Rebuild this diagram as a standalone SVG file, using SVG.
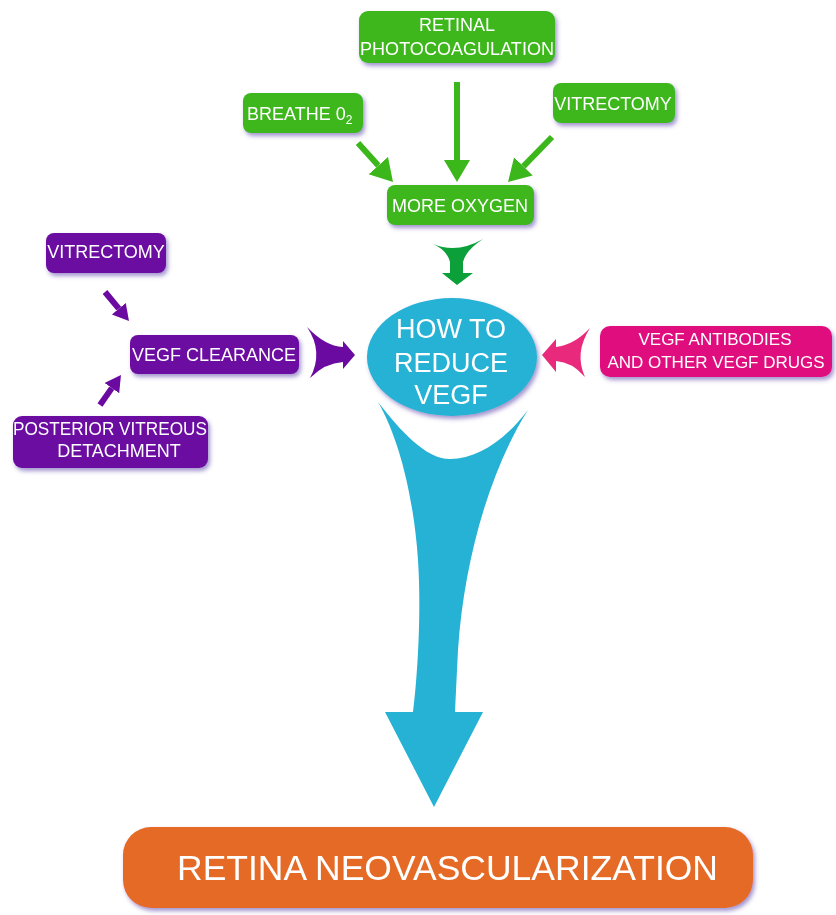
<svg xmlns="http://www.w3.org/2000/svg" width="836" height="915" viewBox="0 0 836 915">
<defs>
<filter id="sh" x="-20%" y="-20%" width="140%" height="150%">
<feDropShadow dx="2" dy="3" stdDeviation="2" flood-color="#5a3ea8" flood-opacity="0.55"/>
</filter>
<marker id="hg" markerUnits="userSpaceOnUse" markerWidth="24" markerHeight="28" refX="0" refY="13" orient="auto">
<path d="M0,0 L22,13 L0,26 Z" fill="#3cb71b"/>
</marker>
<marker id="hp" markerUnits="userSpaceOnUse" markerWidth="18" markerHeight="20" refX="0" refY="9" orient="auto">
<path d="M0,0 L16,9 L0,18 Z" fill="#6a0aa0"/>
</marker>
</defs>
<style>
.t{font-family:"Liberation Sans",Arial,sans-serif;fill:#fff;text-anchor:middle}
.g{fill:#3cb71b}
.p{fill:#6a0aa0}
.box{filter:url(#sh)}
</style>
<rect width="836" height="915" fill="#fff"/>

<g id="connectors">
<line x1="358" y1="143" x2="378.3" y2="165.6" stroke="#3cb71b" stroke-width="6" marker-end="url(#hg)"/>
<line x1="457" y1="82" x2="457" y2="160" stroke="#3cb71b" stroke-width="6" marker-end="url(#hg)"/>
<line x1="552" y1="137" x2="523.4" y2="166.3" stroke="#3cb71b" stroke-width="6" marker-end="url(#hg)"/>
<line x1="105" y1="292" x2="118.8" y2="308.7" stroke="#6a0aa0" stroke-width="6" marker-end="url(#hp)"/>
<line x1="100" y1="405" x2="111.8" y2="388.1" stroke="#6a0aa0" stroke-width="6" marker-end="url(#hp)"/>
<path d="M433,244 Q457,254 483,239 Q466,250 463,262 L463,273 L473,273 L457,285 L442,273 L450,273 L450,262 Q447,250 433,244 Z" fill="#0ba03a"/>
<path d="M542,355 L556,339 L556,347 Q574,345 590,328 Q574,353 585,377 Q572,362 556,361 L556,372 Z" fill="#e8297c"/>
<path d="M355,355 L343,341 L343,347 Q325,346 307,327 Q324,352 310,378 Q325,363 343,362 L343,369 Z" fill="#6a0aa0"/>
<path d="M378,402 C400,430 425,459 450,459 C478,459 505,440 528,410 C490,470 464,560 458,650 Q456,690 455,712 L483,712 L434,807 L385,712 L413,712 C416,690 422,620 418,560 C414,500 400,440 378,402 Z" fill="#25b2d5"/>
</g>

<g id="retinal-photocoagulation" class="box">
<rect x="359" y="11" width="196" height="52" rx="9" class="g"/>
<text class="t" x="457" y="31" font-size="18">RETINAL</text>
<text class="t" x="457" y="55" font-size="18" textLength="194" lengthAdjust="spacingAndGlyphs">PHOTOCOAGULATION</text>
</g>
<g id="breathe-o2" class="box">
<rect x="243" y="93" width="120" height="40" rx="8" class="g"/>
<text class="t" x="247" y="120" font-size="18" style="text-anchor:start">BREATHE 0<tspan font-size="12" dy="4">2</tspan></text>
</g>
<g id="vitrectomy-green" class="box">
<rect x="553" y="83" width="122" height="40" rx="8" class="g"/>
<text class="t" x="613" y="110" font-size="18">VITRECTOMY</text>
</g>
<g id="more-oxygen" class="box">
<rect x="387" y="185" width="147" height="40" rx="8" class="g"/>
<text class="t" x="460" y="212" font-size="18">MORE OXYGEN</text>
</g>

<g id="vitrectomy-purple" class="box">
<rect x="46" y="233" width="120" height="40" rx="8" class="p"/>
<text class="t" x="106" y="258" font-size="18">VITRECTOMY</text>
</g>
<g id="vegf-clearance" class="box">
<rect x="130" y="335" width="169" height="39" rx="8" class="p"/>
<text class="t" x="214" y="361" font-size="18">VEGF CLEARANCE</text>
</g>
<g id="posterior-vitreous-detachment" class="box">
<rect x="13" y="416" width="195" height="52" rx="9" class="p"/>
<text class="t" x="110" y="435" font-size="18" textLength="194" lengthAdjust="spacingAndGlyphs">POSTERIOR VITREOUS</text>
<text class="t" x="119" y="457" font-size="18">DETACHMENT</text>
</g>

<g id="how-to-reduce-vegf" class="box">
<ellipse cx="452" cy="357" rx="85" ry="59" fill="#25b2d5"/>
<text class="t" x="451" y="338" font-size="27">HOW TO</text>
<text class="t" x="451" y="372" font-size="27">REDUCE</text>
<text class="t" x="451" y="404" font-size="27">VEGF</text>
</g>

<g id="vegf-antibodies" class="box">
<rect x="600" y="326" width="232" height="51" rx="10" fill="#e0107f"/>
<text class="t" x="715" y="345" font-size="17">VEGF ANTIBODIES</text>
<text class="t" x="716" y="368" font-size="17">AND OTHER VEGF DRUGS</text>
</g>

<g id="retina-neovascularization" class="box">
<rect x="123" y="827" width="630" height="81" rx="28" fill="#e56a25"/>
<text class="t" x="177" y="880" font-size="35" style="text-anchor:start" textLength="541" lengthAdjust="spacingAndGlyphs">RETINA NEOVASCULARIZATION</text>
</g>
</svg>
